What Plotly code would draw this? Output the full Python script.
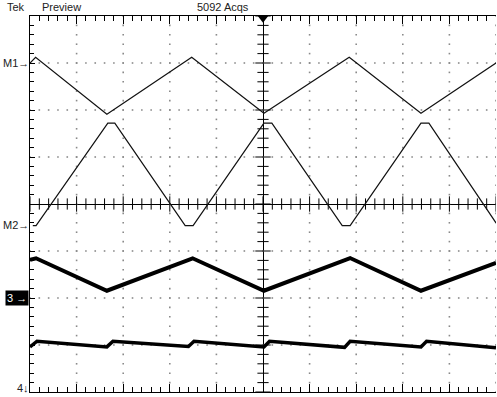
import numpy as np
import plotly.graph_objects as go

# ---- data (x and y in graticule divisions; centre of screen = 0,0) ----
m1_t = [-5.0, -4.88, -3.35, -1.53, 0.02, 1.85, 3.39, 5.0]
m1_v = [3.0, 3.12, 1.91, 3.12, 1.93, 3.12, 1.93, 3.0]

m2_t = [-4.94, -4.87, -3.33, -3.18, -1.67, -1.50, 0.02, 0.19, 1.70, 1.87, 3.39, 3.56, 5.0]
m2_v = [-0.46, -0.46, 1.72, 1.72, -0.46, -0.46, 1.72, 1.72, -0.46, -0.46, 1.72, 1.72, -0.40]

ch3_t = [-5.0, -4.87, -3.35, -1.51, 0.02, 1.87, 3.39, 5.0]
ch3_v = [-1.19, -1.155, -1.845, -1.155, -1.845, -1.15, -1.845, -1.25]

ch4_t = [-5.0, -4.85, -3.35, -3.22, -1.60, -1.48, 0.02, 0.14, 1.75, 1.87, 3.39, 3.51, 5.0]
ch4_v = [-3.04, -2.92, -3.04, -2.92, -3.03, -2.92, -3.04, -2.92, -3.05, -2.92, -3.04, -2.92, -3.06]

grid_x = [-4, -3, -2, -1, 1, 2, 3, 4, 5]
grid_y = [-3, -2, -1, 1, 2, 3]
minor_x = [round(-5 + 0.2 * i, 2) for i in range(51)]
minor_y = [round(-4 + 0.2 * i, 2) for i in range(41)]

header_texts = ["Tek", "Preview", "5092 Acqs"]
marker_labels = ["M1→", "M2→", "3 →", "4↓"]

W, H = 497, 397
L, R, T, B = 30, 1, 16, 5
PW, PH = W - L - R, H - T - B


def pxx(p):
    return (p - L) / PW


def pxy(p):
    return (H - B - p) / PH


fig = go.Figure()

# graticule dots
dx, dy = [], []
for gx in grid_x:
    for my in minor_y:
        dx.append(gx)
        dy.append(my)
for gy in grid_y:
    for mx in minor_x:
        dx.append(mx)
        dy.append(gy)
fig.add_trace(go.Scatter(x=dx, y=dy, mode="markers",
                         marker=dict(symbol="square", size=1.6, color="#8a8a8a", line=dict(width=0)),
                         hoverinfo="skip", showlegend=False))

# centre-line ticks
cx_minor = [v for v in minor_x if abs(v - round(v)) > 1e-6]
cx_major = [v for v in minor_x if abs(v - round(v)) < 1e-6]
cy_minor = [v for v in minor_y if abs(v - round(v)) > 1e-6]
cy_major = [v for v in minor_y if abs(v - round(v)) < 1e-6]
fig.add_trace(go.Scatter(x=cx_minor, y=[0] * len(cx_minor), mode="markers",
                         marker=dict(symbol="line-ns", size=8, line=dict(width=1, color="black")),
                         hoverinfo="skip", showlegend=False))
fig.add_trace(go.Scatter(x=cx_major, y=[0] * len(cx_major), mode="markers",
                         marker=dict(symbol="line-ns", size=11, line=dict(width=1, color="black")),
                         hoverinfo="skip", showlegend=False))
fig.add_trace(go.Scatter(x=[0] * len(cy_minor), y=cy_minor, mode="markers",
                         marker=dict(symbol="line-ew", size=8, line=dict(width=1, color="black")),
                         hoverinfo="skip", showlegend=False))
fig.add_trace(go.Scatter(x=[0] * len(cy_major), y=cy_major, mode="markers",
                         marker=dict(symbol="line-ew", size=11, line=dict(width=1, color="black")),
                         hoverinfo="skip", showlegend=False))

# waveforms
fig.add_trace(go.Scatter(x=m1_t, y=m1_v, mode="lines", line=dict(color="#111", width=1.2),
                         hoverinfo="skip", showlegend=False))
fig.add_trace(go.Scatter(x=m2_t, y=m2_v, mode="lines", line=dict(color="#111", width=1.2),
                         hoverinfo="skip", showlegend=False))
fig.add_trace(go.Scatter(x=ch3_t, y=ch3_v, mode="lines", line=dict(color="#000", width=4),
                         hoverinfo="skip", showlegend=False))
fig.add_trace(go.Scatter(x=ch4_t, y=ch4_v, mode="lines", line=dict(color="#000", width=3.5),
                         hoverinfo="skip", showlegend=False))

# trigger position marker
fig.add_trace(go.Scatter(x=[0], y=[3.95], mode="markers", cliponaxis=False,
                         marker=dict(symbol="triangle-down", size=9, color="black"),
                         hoverinfo="skip", showlegend=False))

annos = []
font = dict(family="Liberation Sans, Arial, sans-serif", size=11, color="#222")
for txt, px in zip(header_texts, [5, 40, 195]):
    annos.append(dict(text=txt, x=pxx(px), y=pxy(7), xref="paper", yref="paper",
                      xanchor="left", yanchor="middle", showarrow=False, font=font))

annos.append(dict(text=marker_labels[0], x=pxx(30), y=pxy(63), xref="paper", yref="paper",
                  xanchor="right", yanchor="middle", showarrow=False, font=font, borderpad=0))
annos.append(dict(text=marker_labels[1], x=pxx(30), y=pxy(225), xref="paper", yref="paper",
                  xanchor="right", yanchor="middle", showarrow=False, font=font, borderpad=0))
annos.append(dict(text=marker_labels[2], x=pxx(29), y=pxy(298), xref="paper", yref="paper",
                  xanchor="right", yanchor="middle", showarrow=False, bgcolor="black",
                  font=dict(family="Liberation Sans, Arial, sans-serif", size=11, color="white"),
                  borderpad=1))
annos.append(dict(text=marker_labels[3], x=pxx(30), y=pxy(388), xref="paper", yref="paper",
                  xanchor="right", yanchor="middle", showarrow=False, font=font, borderpad=0))

fig.update_layout(
    width=W, height=H,
    margin=dict(l=L, r=R, t=T, b=B, pad=0),
    paper_bgcolor="white", plot_bgcolor="white",
    annotations=annos,
    xaxis=dict(range=[-5, 5], showgrid=False, zeroline=True, zerolinecolor="black", zerolinewidth=1,
               showline=True, linecolor="black", linewidth=1, mirror="ticks",
               ticks="inside", ticklen=8, tickcolor="black", dtick=1, tick0=0,
               showticklabels=False,
               minor=dict(ticks="inside", ticklen=5, dtick=0.2, tick0=0, tickcolor="black", showgrid=False)),
    yaxis=dict(range=[-4, 4], showgrid=False, zeroline=True, zerolinecolor="black", zerolinewidth=1,
               showline=True, linecolor="black", linewidth=1, mirror=False,
               ticks="inside", ticklen=5, tickcolor="black", dtick=1, tick0=0,
               showticklabels=False,
               minor=dict(ticks="inside", ticklen=4, dtick=0.2, tick0=0, tickcolor="black", showgrid=False)),
)

fig.write_html("out.html", config={"displayModeBar": False},
               post_script="document.body.style.margin='0';document.body.style.overflow='hidden';")
